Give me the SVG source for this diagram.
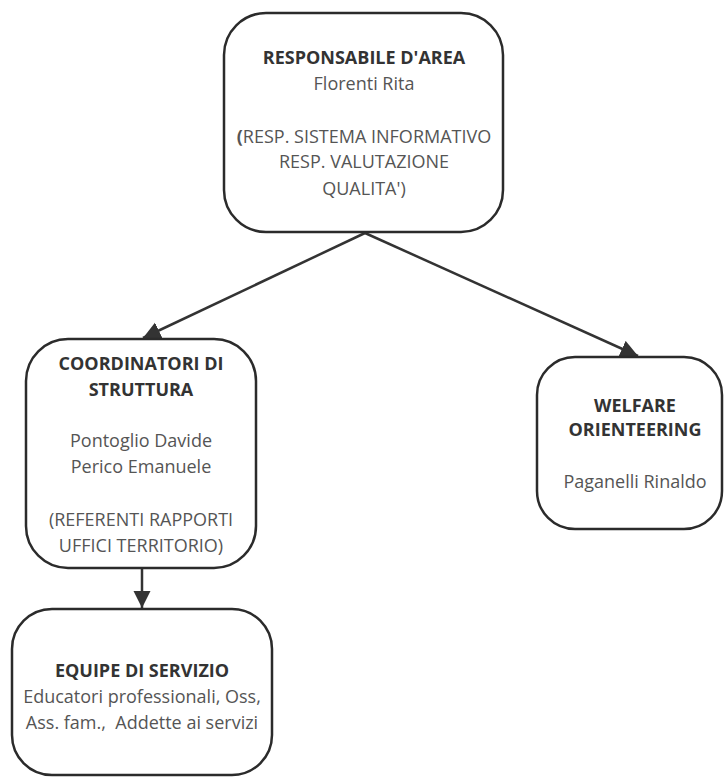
<svg xmlns="http://www.w3.org/2000/svg" width="724" height="777" viewBox="0 0 724 777">
<style>
.box{fill:#fff;stroke:#2b2b2b;stroke-width:2.5}
.b{font-family:"Open Sans","Liberation Sans",sans-serif;font-size:18px;font-weight:bold;fill:#333;text-anchor:middle}
.r{font-family:"Open Sans","Liberation Sans",sans-serif;font-size:18px;fill:#555;text-anchor:middle}
.c{stroke:#333;stroke-width:2.5;fill:none}
</style>
<defs>
<marker id="ah" viewBox="0 0 10 10" refX="10" refY="5" markerWidth="7" markerHeight="7.5" orient="auto" markerUnits="strokeWidth">
<path d="M0,0 L10,5 L0,10 z" fill="#333"/>
</marker>
</defs>
<rect width="724" height="777" fill="#fff"/>
<g id="connectors">
<line class="c" x1="365" y1="233" x2="143" y2="338" marker-end="url(#ah)"/>
<line class="c" x1="365" y1="233" x2="638" y2="356" marker-end="url(#ah)"/>
<line class="c" x1="142" y1="569" x2="142" y2="608" marker-end="url(#ah)"/>
</g>
<g id="responsabile">
<rect class="box" x="224" y="13" width="279" height="219" rx="42"/>
<text class="b" x="364" y="64">RESPONSABILE D'AREA</text>
<text class="r" x="364" y="90">Florenti Rita</text>
<text class="r" x="364" y="143"><tspan font-weight="bold">(</tspan>RESP. SISTEMA INFORMATIVO</text>
<text class="r" x="364" y="168">RESP. VALUTAZIONE</text>
<text class="r" x="364" y="195">QUALITA')</text>
</g>
<g id="coordinatori">
<rect class="box" x="26" y="339" width="230" height="229" rx="42"/>
<text class="b" x="141" y="370">COORDINATORI DI</text>
<text class="b" x="141" y="396">STRUTTURA</text>
<text class="r" x="141" y="447">Pontoglio Davide</text>
<text class="r" x="141" y="473">Perico Emanuele</text>
<text class="r" x="141" y="526">(REFERENTI RAPPORTI</text>
<text class="r" x="141" y="552">UFFICI TERRITORIO)</text>
</g>
<g id="welfare">
<rect class="box" x="537" y="357" width="185" height="172" rx="38"/>
<text class="b" x="635" y="412">WELFARE</text>
<text class="b" x="635" y="436">ORIENTEERING</text>
<text class="r" x="635" y="488">Paganelli Rinaldo</text>
</g>
<g id="equipe">
<rect class="box" x="12" y="609" width="260" height="166" rx="40"/>
<text class="b" x="142" y="677">EQUIPE DI SERVIZIO</text>
<text class="r" x="142" y="703">Educatori professionali, Oss,</text>
<text class="r" x="142" y="729" xml:space="preserve">Ass. fam.,  Addette ai servizi</text>
</g>
</svg>
